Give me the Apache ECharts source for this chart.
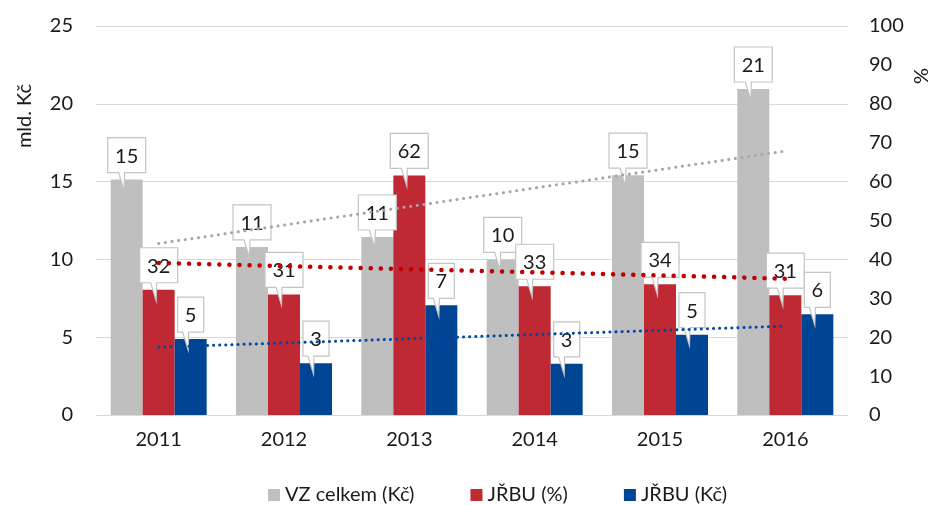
<!DOCTYPE html>
<html>
<head>
<meta charset="utf-8">
<script src="https://cdn.jsdelivr.net/npm/echarts@6/dist/echarts.min.js"></script>
<style>
  html, body { margin: 0; padding: 0; background: #fff; }
  #chart { width: 932px; height: 505px; }
</style>
</head>
<body>
<div id="chart"></div>
<script>
const years = ['2011', '2012', '2013', '2014', '2015', '2016'];
const vzCelkem = [15.13, 10.8, 11.44, 10.0, 15.41, 20.95];
const jrbuPct = [32.2, 31.0, 61.6, 33.1, 33.6, 30.8];
const jrbuKc = [4.88, 3.33, 7.05, 3.29, 5.16, 6.47];
// trend line end points (first and last year)
const trendVz = [11.02, 16.96];
const trendPct = [39.1, 35.05];
const trendKc = [4.36, 5.71];
const leftTicks = [0, 25, 5];
const rightTicks = [0, 100, 10];

const FONT = 'Lato, "Open Sans", sans-serif';
const BAR_W = 32;
const grayColor = '#bfbfbf';
const redColor = '#be2933';
const blueColor = '#004494';

const myChart = echarts.init(document.getElementById('chart'));

function calloutRender(offsetIdx) {
  return function (params, api) {
    const pt = api.coord([api.value(0), api.value(1)]);
    const cx = pt[0] + offsetIdx * BAR_W;
    const top = pt[1];
    const txt = String(Math.round(api.value(1)));
    const w = txt.length > 1 ? 38 : 26;
    const h = 35;
    const left = cx - w / 2;
    const bottom = top - 7;
    const y0 = bottom - h;
    const points = [
      [left, y0], [left + w, y0], [left + w, bottom],
      [cx - 2, bottom], [cx - 2.5, top + 11], [cx - 8, bottom],
      [left, bottom]
    ];
    return {
      type: 'group',
      children: [
        {
          type: 'polygon',
          shape: { points: points },
          style: { fill: '#fff', stroke: '#c4c4c4', lineWidth: 1.2 }
        },
        {
          type: 'text',
          style: {
            text: txt, x: cx, y: y0 + h / 2 + 1,
            align: 'center', verticalAlign: 'middle',
            font: '20px ' + FONT, fill: '#1a1a1a'
          }
        }
      ]
    };
  };
}

function pairs(arr) {
  return arr.map((v, i) => [i, v]);
}

function trend(t) {
  return [[0, t[0]], [years.length - 1, t[1]]];
}

const option = {
  animation: false,
  grid: { left: 96, right: 84, top: 26, bottom: 90 },
  legend: {
    data: ['VZ celkem (Kč)', 'JŘBU (%)', 'JŘBU (Kč)'],
    left: 263,
    top: 480,
    icon: 'rect',
    itemWidth: 12,
    itemHeight: 12,
    itemGap: 56,
    textStyle: { fontFamily: FONT, fontSize: 20, color: '#1a1a1a' }
  },
  graphic: [
    {
      type: 'text', x: 25, y: 116, rotation: Math.PI / 2,
      style: { text: 'mld. Kč', align: 'center', verticalAlign: 'middle', font: '20px ' + FONT, fill: '#1a1a1a' }
    },
    {
      type: 'text', x: 922, y: 76, rotation: Math.PI / 2,
      style: { text: '%', align: 'center', verticalAlign: 'middle', font: '20px ' + FONT, fill: '#1a1a1a' }
    }
  ],
  xAxis: {
    type: 'category',
    data: years,
    axisLine: { lineStyle: { color: '#d9d9d9', width: 1 } },
    axisTick: { show: false },
    axisLabel: { margin: 15, fontFamily: FONT, fontSize: 20, color: '#1a1a1a' }
  },
  yAxis: [
    {
      type: 'value',
      min: leftTicks[0], max: leftTicks[1], interval: leftTicks[2],
      axisLine: { show: false },
      axisTick: { show: false },
      splitLine: { lineStyle: { color: '#d9d9d9', width: 1 } },
      axisLabel: { margin: 23, fontFamily: FONT, fontSize: 20, color: '#1a1a1a' }
    },
    {
      type: 'value',
      min: rightTicks[0], max: rightTicks[1], interval: rightTicks[2],
      axisLine: { show: false },
      axisTick: { show: false },
      splitLine: { show: false },
      axisLabel: { margin: 21, fontFamily: FONT, fontSize: 20, color: '#1a1a1a' }
    }
  ],
  series: [
    { name: 'VZ celkem (Kč)', type: 'bar', yAxisIndex: 0, data: vzCelkem, barWidth: BAR_W, barGap: '0%', itemStyle: { color: grayColor } },
    { name: 'JŘBU (%)', type: 'bar', yAxisIndex: 1, data: jrbuPct, barWidth: BAR_W, barGap: '0%', itemStyle: { color: redColor } },
    { name: 'JŘBU (Kč)', type: 'bar', yAxisIndex: 0, data: jrbuKc, barWidth: BAR_W, barGap: '0%', itemStyle: { color: blueColor } },
    { type: 'custom', yAxisIndex: 0, z: 5, data: pairs(vzCelkem), renderItem: calloutRender(-1), silent: true },
    { type: 'custom', yAxisIndex: 1, z: 5, data: pairs(jrbuPct), renderItem: calloutRender(0), silent: true },
    { type: 'custom', yAxisIndex: 0, z: 5, data: pairs(jrbuKc), renderItem: calloutRender(1), silent: true },
    {
      type: 'line', yAxisIndex: 0, z: 10, data: trend(trendVz), symbol: 'none', silent: true,
      lineStyle: { color: '#a6a6a6', width: 3, type: [0.1, 6.6], cap: 'round' }
    },
    {
      type: 'line', yAxisIndex: 1, z: 10, data: trend(trendPct), symbol: 'none', silent: true,
      lineStyle: { color: '#c00000', width: 4.5, type: [0.1, 10], cap: 'round' }
    },
    {
      type: 'line', yAxisIndex: 0, z: 10, data: trend(trendKc), symbol: 'none', silent: true,
      lineStyle: { color: '#0047a0', width: 3, type: [0.1, 6], cap: 'round' }
    }
  ]
};

myChart.setOption(option);
window.addEventListener('resize', myChart.resize);
</script>
</body>
</html>
